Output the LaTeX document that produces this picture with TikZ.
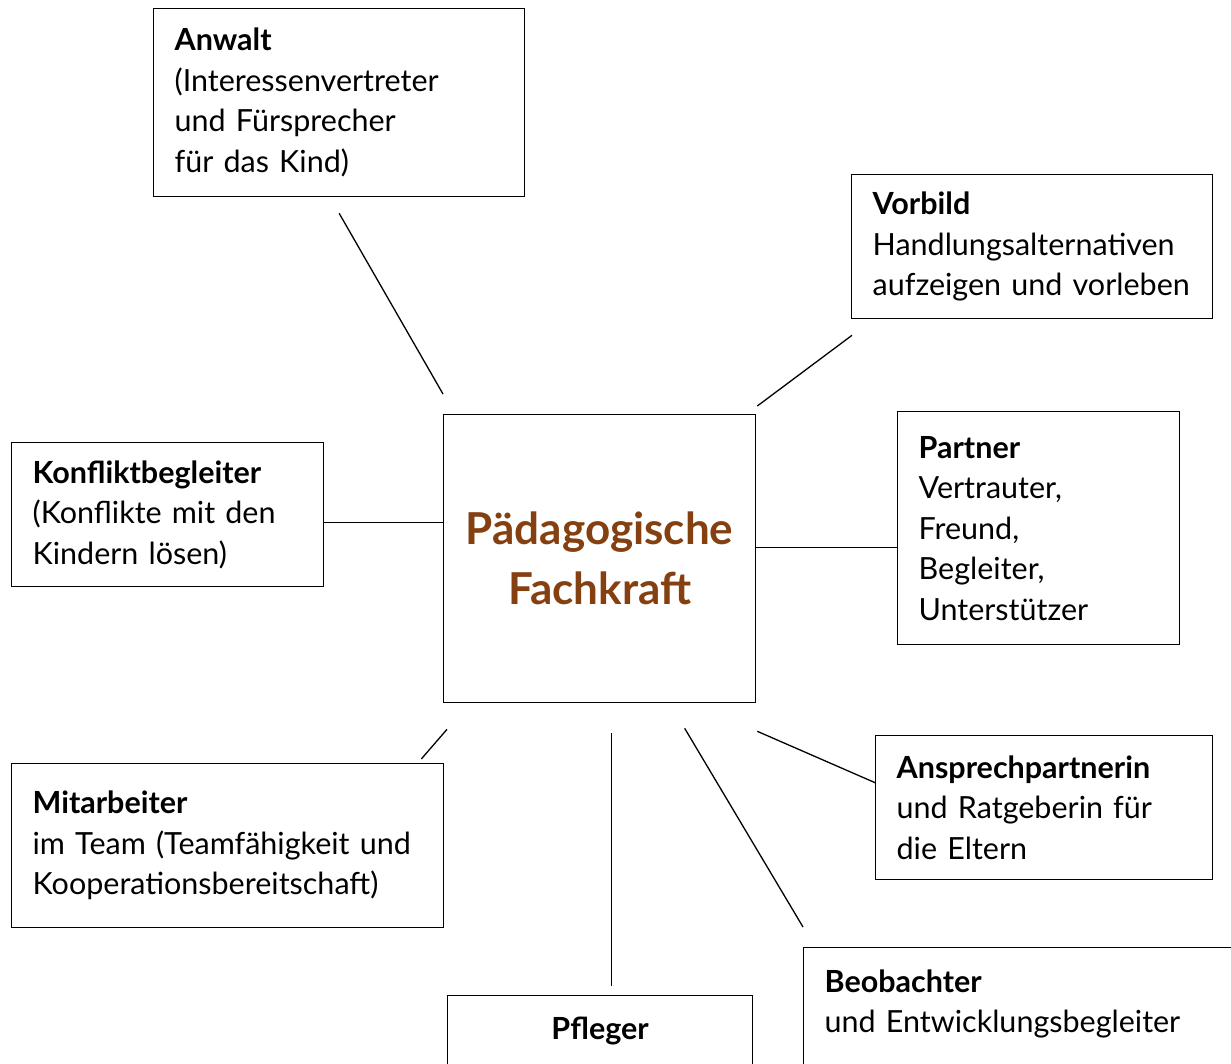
\documentclass[tikz,border=0pt]{standalone}
\usepackage{fontspec}
\setmainfont{Lato}
\usetikzlibrary{calc,positioning}
\definecolor{fachbraun}{RGB}{133,64,18}

\begin{document}
\begin{tikzpicture}[x=1pt, y=-1pt, line width=1.3pt,
  kasten/.style={draw, anchor=north west, align=left, inner xsep=21pt,
    font={\fontsize{30.5}{40.5}\selectfont}}]
  \useasboundingbox (0,0) rectangle (1231,1063);
  \clip (0,0) rectangle (1231,1063);

  % Mitte
  \node[draw, anchor=north west, minimum width=312pt, minimum height=288pt,
    align=center, text=fachbraun, font={\fontsize{44}{60}\selectfont\bfseries}]
    (fachkraft) at (443,414) {Pädagogische\\Fachkraft};

  % Rollen
  \node[kasten, text width=329pt, minimum height=188pt] (anwalt) at (153,8)
    {\textbf{Anwalt}\\(Interessenvertreter\\und Fürsprecher\\für das Kind)};
  \node[kasten, text width=319pt, minimum height=144pt] (vorbild) at (851,174)
    {\textbf{Vorbild}\\Handlungsalternativen\\aufzeigen und vorleben};
  \node[kasten, text width=270pt, minimum height=144pt] (konflikt) at (11,442)
    {\textbf{Konfliktbegleiter}\\(Konflikte mit den\\Kindern lösen)};
  \node[kasten, text width=240pt, minimum height=233pt] (partner) at (897,411)
    {\textbf{Partner}\\Vertrauter,\\Freund,\\Begleiter,\\Unterstützer};
  \node[kasten, text width=390pt, minimum height=164pt] (mitarbeiter) at (11,763)
    {\textbf{Mitarbeiter}\\im Team (Teamfähigkeit und\\Kooperationsbereitschaft)};
  \node[kasten, text width=295pt, minimum height=144pt] (ansprech) at (875,735)
    {\textbf{Ansprechpartnerin}\\und Ratgeberin für\\die Eltern};
  \node[kasten, align=center, text width=263pt, inner ysep=22pt,
    text height=22pt, text depth=100pt] (pfleger) at (447,995)
    {\textbf{Pfleger}};
  \node[kasten, text width=460pt, inner ysep=22pt, text depth=100pt]
    (beobachter) at (803,947)
    {\textbf{Beobachter}\\und Entwicklungsbegleiter};

  % Linien
  \draw ($(anwalt.south)+(0,16)$) -- ($(fachkraft.north west)+(0,-20)$);
  \draw ($(vorbild.south west)+(1,16)$) -- ($(fachkraft.north east)+(1,-8)$);
  \draw ($(konflikt.east)+(0,8)$) coordinate (k) -- (k -| fachkraft.west);
  \draw ($(fachkraft.east)+(0,-11)$) coordinate (p) -- (p -| partner.west);
  \draw ($(fachkraft.south west)+(4,26)$) -- ($(mitarbeiter.north east)+(-23,-4)$);
  \draw ($(fachkraft.south)+(12,30)$) coordinate (f) -- ($(f |- pfleger.north)+(0,-9)$);
  \draw ($(fachkraft.south)+(85,25)$) -- ($(beobachter.north west)+(0,-20)$);
  \draw ($(fachkraft.south east)+(1,28)$) -- ($(ansprech.west)+(0,-25)$);
\end{tikzpicture}
\end{document}
